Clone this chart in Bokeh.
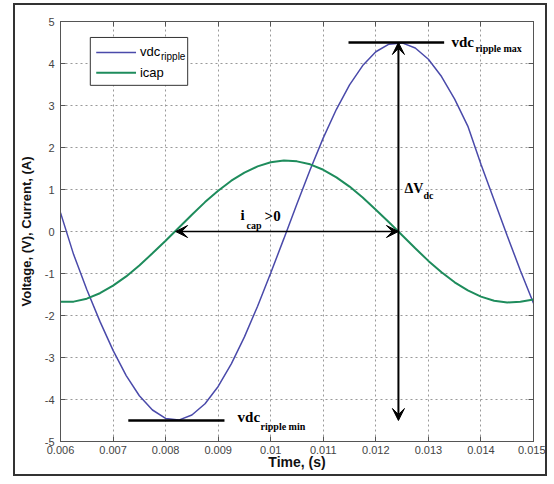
from bokeh.plotting import figure
from bokeh.models import Range1d, LinearAxis, FixedTicker, Arrow, VeeHead, Label, BoxAnnotation
from bokeh.embed import file_html
from bokeh.resources import INLINE

# ---- data ----
t = [0.006, 0.00625, 0.0065, 0.00675, 0.007, 0.00725, 0.0075, 0.00775, 0.008, 0.00825,
     0.0085, 0.00875, 0.009, 0.00925, 0.0095, 0.00975, 0.010, 0.01025, 0.0105, 0.01075,
     0.011, 0.01125, 0.0115, 0.01175, 0.012, 0.01225, 0.0125, 0.01275, 0.013, 0.01325,
     0.0135, 0.01375, 0.014, 0.01425, 0.0145, 0.01475, 0.015]
vdc_ripple = [0.45, -0.55, -1.38, -2.14, -2.83, -3.43, -3.91, -4.25, -4.45, -4.49,
              -4.37, -4.10, -3.69, -3.15, -2.51, -1.78, -0.99, -0.17, 0.66, 1.47,
              2.23, 2.91, 3.49, 3.95, 4.28, 4.46, 4.49, 4.37, 4.10, 3.69,
              3.15, 2.51, 1.60, 0.75, -0.10, -0.93, -1.71]
icap = [-1.67, -1.67, -1.60, -1.47, -1.29, -1.07, -0.81, -0.52, -0.22, 0.09,
        0.40, 0.70, 0.97, 1.21, 1.40, 1.55, 1.65, 1.69, 1.67, 1.60,
        1.47, 1.29, 1.07, 0.81, 0.52, 0.22, -0.09, -0.40, -0.70, -0.97,
        -1.21, -1.40, -1.55, -1.65, -1.69, -1.67, -1.62]

x_ticks = [0.006, 0.007, 0.008, 0.009, 0.01, 0.011, 0.012, 0.013, 0.014, 0.015]
x_tick_labels = ["0.006", "0.007", "0.008", "0.009", "0.01", "0.011", "0.012", "0.013", "0.014", "0.015"]
y_ticks = [-5, -4, -3, -2, -1, 0, 1, 2, 3, 4, 5]
y_tick_labels = ["-5", "-4", "-3", "-2", "-1", "0", "1", "2", "3", "4", "5"]

# key points of the annotations
t_vmax, vdc_max = 0.01243, 4.5
t_vmin, vdc_min = 0.00817, -4.5
t_icap_zero = [0.00819, 0.01243]
max_line = [0.01148, 0.0133]
min_line = [0.00729, 0.00912]

BLUE = "#4a4aaa"
GREEN = "#1e8c5c"
AX = "#555555"
SERIF = "Liberation Serif"
SANS = "Liberation Sans"

p = figure(width=534, height=473, x_range=Range1d(0.006, 0.015), y_range=Range1d(-5, 5),
           output_backend="svg", toolbar_location=None,
           min_border_left=42, min_border_right=16, min_border_top=16, min_border_bottom=37)
p.styles = {"border": "2px solid #333333", "margin-left": "13px", "margin-top": "3px"}
p.background_fill_color = "white"
p.border_fill_color = "white"
p.outline_line_color = AX
p.outline_line_width = 1

# axes
for ax in (p.xaxis[0], p.yaxis[0]):
    ax.major_tick_in = 5
    ax.major_tick_out = 0
    ax.minor_tick_in = 0
    ax.minor_tick_out = 0
    ax.axis_line_color = AX
    ax.major_tick_line_color = AX
    ax.major_label_text_font = SANS
    ax.major_label_text_font_size = "11px"
    ax.major_label_text_color = "#444444"
    ax.axis_label_text_font = SANS
    ax.axis_label_text_font_style = "bold"
    ax.axis_label_text_color = "#111111"
p.xaxis.ticker = FixedTicker(ticks=x_ticks)
p.xaxis.major_label_overrides = {v: s for v, s in zip(x_ticks, x_tick_labels)}
p.yaxis.ticker = FixedTicker(ticks=y_ticks)
p.yaxis.major_label_overrides = {v: s for v, s in zip(y_ticks, y_tick_labels)}
p.xaxis.axis_label = "Time, (s)"
p.xaxis.axis_label_text_font_size = "14px"
p.xaxis.major_label_standoff = 4
p.xaxis.axis_label_standoff = -3
p.yaxis.axis_label = "Voltage, (V), Current, (A)"
p.yaxis.axis_label_text_font_size = "13px"
p.yaxis.major_label_standoff = 6
p.yaxis.axis_label_standoff = 8

right = LinearAxis(ticker=FixedTicker(ticks=y_ticks),
                   major_label_overrides={v: "" for v in y_ticks},
                   major_tick_in=5, major_tick_out=0, minor_tick_in=0, minor_tick_out=0,
                   axis_line_color=AX, major_tick_line_color=AX, major_label_standoff=0)
top = LinearAxis(ticker=FixedTicker(ticks=x_ticks),
                 major_label_overrides={v: "" for v in x_ticks},
                 major_tick_in=5, major_tick_out=0, minor_tick_in=0, minor_tick_out=0,
                 axis_line_color=AX, major_tick_line_color=AX, major_label_standoff=0)
p.add_layout(right, "right")
p.add_layout(top, "above")

p.xgrid.ticker = FixedTicker(ticks=x_ticks)
p.ygrid.ticker = FixedTicker(ticks=y_ticks)
for g in (p.xgrid[0], p.ygrid[0]):
    g.grid_line_color = "#999999"
    g.grid_line_dash = "2 3"
    g.grid_line_width = 1

# series
p.line(t, vdc_ripple, line_color=BLUE, line_width=1.5)
p.line(t, icap, line_color=GREEN, line_width=2)

# max / min marker lines
p.add_layout(Arrow(start=None, end=None, x_start=max_line[0], x_end=max_line[1],
                   y_start=vdc_max, y_end=vdc_max, line_color="black", line_width=2.5))
p.add_layout(Arrow(start=None, end=None, x_start=min_line[0], x_end=min_line[1],
                   y_start=vdc_min, y_end=vdc_min, line_color="black", line_width=2.5))

# double arrows
p.add_layout(Arrow(start=VeeHead(size=12, fill_color="black", line_color="black"),
                   end=VeeHead(size=12, fill_color="black", line_color="black"),
                   x_start=t_vmax, x_end=t_vmax, y_start=vdc_max, y_end=vdc_min,
                   line_color="black", line_width=2))
p.add_layout(Arrow(start=VeeHead(size=12, fill_color="black", line_color="black"),
                   end=VeeHead(size=12, fill_color="black", line_color="black"),
                   x_start=t_icap_zero[0], x_end=t_icap_zero[1], y_start=0, y_end=0,
                   line_color="black", line_width=1.5))

def lab(x, y, text, xo, yo, size, font=SERIF, style="bold"):
    p.add_layout(Label(x=x, y=y, text=text, x_offset=xo, y_offset=yo, text_font=font,
                       text_font_style=style, text_font_size=size, text_color="black",
                       text_baseline="middle", text_align="left"))

lab(t_vmax, vdc_max, "vdc", 53, 1, "15px")
lab(t_vmax, vdc_max, "ripple max", 77, -6, "10px")
lab(t_vmin, vdc_min, "vdc", 63, 4, "15px")
lab(t_vmin, vdc_min, "ripple min", 86, -6, "10px")
lab(t_icap_zero[0], 0, "i", 65, 17, "15px")
lab(t_icap_zero[0], 0, "cap", 71, 6, "10px")
lab(t_icap_zero[0], 0, ">0", 89, 16, "15px")
lab(t_vmax, 0, "\u0394V", 6, 43, "14px")
lab(t_vmax, 0, "dc", 25, 36, "10px")

# legend (drawn by hand for the subscript)
LEG = dict(left=0.006567, right=0.00842, top=4.62, bottom=3.48,
           line_x=[0.00668, 0.007437], text_x=0.007512, rows=[4.26, 3.78])
p.add_layout(BoxAnnotation(left=LEG["left"], right=LEG["right"], top=LEG["top"], bottom=LEG["bottom"],
                           fill_color="white", fill_alpha=1, line_color="#333333", line_width=1,
                           line_alpha=1))
for col, yy in zip((BLUE, GREEN), LEG["rows"]):
    p.add_layout(Arrow(start=None, end=None, x_start=LEG["line_x"][0], x_end=LEG["line_x"][1],
                       y_start=yy, y_end=yy, line_color=col, line_width=1.5 if col == BLUE else 2))
lab(LEG["text_x"], LEG["rows"][0], "vdc", 0, 1, "13px", font=SANS, style="normal")
lab(LEG["text_x"], LEG["rows"][0], "ripple", 21, -4, "10px", font=SANS, style="normal")
lab(LEG["text_x"], LEG["rows"][1], "icap", 0, 0, "13px", font=SANS, style="normal")

open("out.html", "w").write(file_html(p, INLINE))
